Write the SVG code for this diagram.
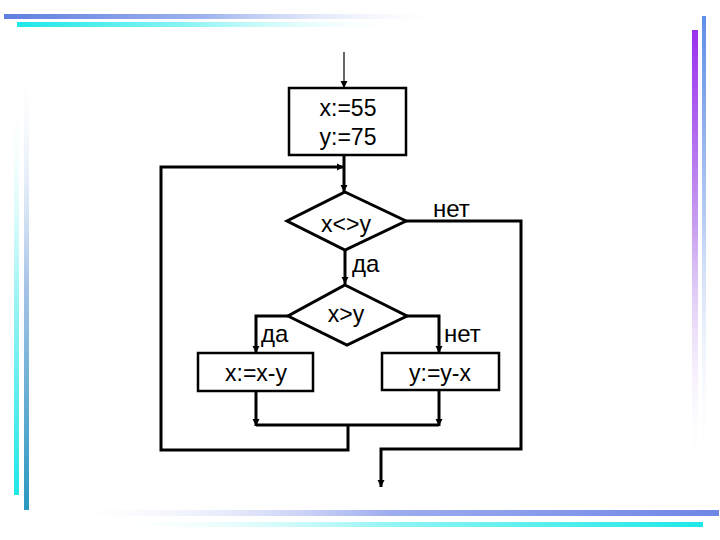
<svg xmlns="http://www.w3.org/2000/svg" width="720" height="540" viewBox="0 0 720 540">
<defs>
<linearGradient id="gTopBlue" x1="0" y1="0" x2="1" y2="0"><stop offset="0" stop-color="#5f7fe0"/><stop offset="0.45" stop-color="#9fb4ee"/><stop offset="1" stop-color="#ffffff" stop-opacity="0"/></linearGradient>
<linearGradient id="gTopCyan" x1="0" y1="0" x2="1" y2="0"><stop offset="0" stop-color="#1ee8e8"/><stop offset="0.45" stop-color="#8ff4f4"/><stop offset="1" stop-color="#ffffff" stop-opacity="0"/></linearGradient>
<linearGradient id="gRightPurple" x1="0" y1="0" x2="0" y2="1"><stop offset="0" stop-color="#9a30ee"/><stop offset="0.45" stop-color="#c8a0f0"/><stop offset="1" stop-color="#ffffff" stop-opacity="0"/></linearGradient>
<linearGradient id="gRightBlue" x1="0" y1="0" x2="0" y2="1"><stop offset="0" stop-color="#5f8ee8"/><stop offset="0.45" stop-color="#b8ccf2"/><stop offset="1" stop-color="#ffffff" stop-opacity="0"/></linearGradient>
<linearGradient id="gLeftCyan" x1="0" y1="1" x2="0" y2="0"><stop offset="0" stop-color="#1ee8e8"/><stop offset="0.5" stop-color="#a0f4f4"/><stop offset="1" stop-color="#ffffff" stop-opacity="0"/></linearGradient>
<linearGradient id="gLeftBlue" x1="0" y1="1" x2="0" y2="0"><stop offset="0" stop-color="#2a98c0"/><stop offset="0.5" stop-color="#a8c4e8"/><stop offset="1" stop-color="#ffffff" stop-opacity="0"/></linearGradient>
<linearGradient id="gBotBlue" x1="1" y1="0" x2="0" y2="0"><stop offset="0" stop-color="#6f86e6"/><stop offset="0.5" stop-color="#9eacef"/><stop offset="1" stop-color="#ffffff" stop-opacity="0"/></linearGradient>
<linearGradient id="gBotCyan" x1="1" y1="0" x2="0" y2="0"><stop offset="0" stop-color="#1ee8e8"/><stop offset="0.5" stop-color="#8ff4f4"/><stop offset="1" stop-color="#ffffff" stop-opacity="0"/></linearGradient>
<marker id="arr" viewBox="0 0 10 10" refX="10" refY="5" markerUnits="userSpaceOnUse" markerWidth="7" markerHeight="9" orient="auto"><path d="M0,0 L10,5 L0,10 Z" fill="#000"/></marker>
</defs>
<style>
.box{fill:#fff;stroke:#000;stroke-width:2.5}
.dia{fill:#fff;stroke:#000;stroke-width:3}
.ln{fill:none;stroke:#000;stroke-width:3}
.thin{fill:none;stroke:#000;stroke-width:1.2}
.t{font-family:"Liberation Sans",Arial,sans-serif;font-size:23px;fill:#000}
.lbl{font-family:"Liberation Sans",Arial,sans-serif;font-size:24px;fill:#000}
</style>
<rect width="720" height="540" fill="#fff"/>
<g id="decor">
<rect x="4" y="14" width="450" height="5" fill="url(#gTopBlue)"/>
<rect x="17" y="22" width="390" height="5" fill="url(#gTopCyan)"/>
<rect x="692" y="30" width="6" height="440" fill="url(#gRightPurple)"/>
<rect x="702" y="16" width="4" height="450" fill="url(#gRightBlue)"/>
<rect x="14" y="90" width="5" height="405" fill="url(#gLeftCyan)"/>
<rect x="24" y="55" width="5" height="455" fill="url(#gLeftBlue)"/>
<rect x="60" y="510" width="659" height="6" fill="url(#gBotBlue)"/>
<rect x="90" y="522" width="613" height="5" fill="url(#gBotCyan)"/>
</g>
<g id="connectors">
<line class="thin" x1="344" y1="52" x2="344" y2="88" marker-end="url(#arr)"/>
<line class="ln" x1="344" y1="155" x2="344" y2="192" marker-end="url(#arr)"/>
<polyline class="ln" points="348,425 348,450 161,450 161,167 344,167" marker-end="url(#arr)"/>
<line class="ln" x1="345" y1="250" x2="345" y2="284" marker-end="url(#arr)"/>
<polyline class="ln" points="406,221 521,221 521,449 381,449 381,487" marker-end="url(#arr)"/>
<polyline class="ln" points="288,316 256,316 256,353" marker-end="url(#arr)"/>
<polyline class="ln" points="406,316 439,316 439,353" marker-end="url(#arr)"/>
<line class="ln" x1="256" y1="391" x2="256" y2="426" marker-end="url(#arr)"/>
<line class="ln" x1="439" y1="391" x2="439" y2="426" marker-end="url(#arr)"/>
<line class="ln" x1="256" y1="425" x2="439" y2="425"/>
<text class="lbl" x="433" y="217">нет</text>
<text class="lbl" x="352" y="272">да</text>
<text class="lbl" x="261" y="342">да</text>
<text class="lbl" x="444" y="342">нет</text>
</g>
<g id="init">
<rect class="box" x="289" y="88" width="117" height="67"/>
<text class="t" x="348" y="116" text-anchor="middle">x:=55</text>
<text class="t" x="348" y="145" text-anchor="middle">y:=75</text>
</g>
<g id="cond1">
<polygon class="dia" points="345,192 406,221 345,250 287,221"/>
<text class="t" x="346" y="232" text-anchor="middle">x&lt;&gt;y</text>
</g>
<g id="cond2">
<polygon class="dia" points="345,285 407,316 347,345 288,316"/>
<text class="t" x="346" y="322" text-anchor="middle">x&gt;y</text>
</g>
<g id="boxx">
<rect class="box" x="198" y="353" width="115" height="38"/>
<text class="t" x="256" y="381" text-anchor="middle">x:=x-y</text>
</g>
<g id="boxy">
<rect class="box" x="382" y="353" width="117" height="37"/>
<text class="t" x="440" y="381" text-anchor="middle">y:=y-x</text>
</g>
</svg>
